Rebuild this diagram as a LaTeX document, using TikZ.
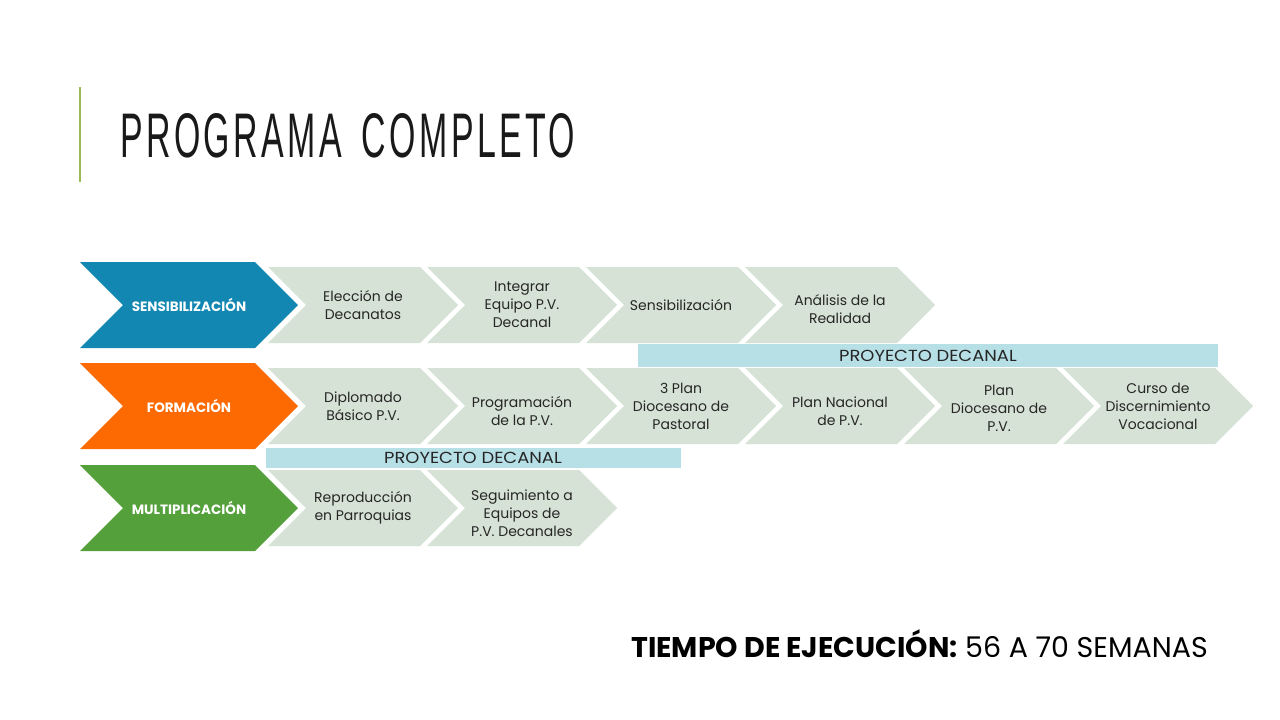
\documentclass[tikz,border=0pt]{standalone}
\usepackage{fontspec}
\setmainfont{Poppins}
\newfontfamily\titlefont{Liberation Sans}[LetterSpace=10]
\definecolor{cblue}{HTML}{1287B1}
\definecolor{corange}{HTML}{FD6A02}
\definecolor{cgreen}{HTML}{54A03A}
\definecolor{clight}{HTML}{D6E2D5}
\definecolor{cbar}{HTML}{B7E0E6}
\definecolor{cline}{HTML}{9BBB59}
\definecolor{ctext}{HTML}{262626}
\tikzset{
  lighttext/.style={align=center,text=ctext,font=\fontsize{14}{18}\selectfont,inner sep=0pt},
  headtext/.style={text=white,font=\bfseries\fontsize{13.5}{15}\selectfont,inner sep=0pt},
  bartext/.style={text=ctext,font=\fontsize{16}{18}\selectfont,inner sep=0pt},
}
\newcommand\lchev[3]{% x0, ytop, name
  \fill[clight] (#1,#2) -- ++(152,0) -- ++(38,38) -- ++(-38,38) -- ++(-152,0) -- ++(38,-38) -- cycle;
  \coordinate (#3) at (#1+95,#2+38);}
\newcommand\hchev[4]{% ytop, color, name, text
  \fill[#2] (80,#1) -- (255,#1) -- (298,#1+43) -- (255,#1+86) -- (80,#1+86) -- (123,#1+43) -- cycle;
  \node[headtext] (#3) at (189,#1+43) {#4};}
\newcommand\bartxt[1]{\scalebox{1.12}[1]{#1}}
\begin{document}
\begin{tikzpicture}[x=1pt,y=-1pt]
\useasboundingbox[fill=white] (0,0) rectangle (1280,720);
% title
\coordinate (lt) at (80,87);
\coordinate (lb) at (80,182);
\draw[cline,line width=2pt] (lt) -- (lb);
\node[anchor=base west,inner sep=0pt,text=black!90] (title) at (120,157)
  {\resizebox{455pt}{44pt}{\titlefont PROGRAMA\kern0.6em COMPLETO}};
% row 1
\hchev{262}{cblue}{h1}{SENSIBILIZACIÓN}
\lchev{268}{267}{a1}\node[lighttext] (t11) at (a1) {Elección de\\Decanatos};
\lchev{427}{267}{a2}\node[lighttext] (t12) at (a2) {Integrar\\Equipo P.V.\\Decanal};
\lchev{586}{267}{a3}\node[lighttext] (t13) at (a3) {Sensibilización};
\lchev{745}{267}{a4}\node[lighttext] (t14) at ([yshift=-4]a4) {Análisis de la\\Realidad};
% bar 1
\fill[cbar] (638,344) rectangle (1218,367);
\node[bartext] (bar1) at (928,356) {\bartxt{PROYECTO DECANAL}};
% row 2
\hchev{363}{corange}{h2}{FORMACIÓN}
\lchev{268}{368}{b1}\node[lighttext] (t21) at (b1) {Diplomado\\Básico P.V.};
\lchev{427}{368}{b2}\node[lighttext] (t22) at ([yshift=-5]b2) {Programación\\de la P.V.};
\lchev{586}{368}{b3}\node[lighttext] (t23) at (b3) {3 Plan\\Diocesano de\\Pastoral};
\lchev{745}{368}{b4}\node[lighttext] (t24) at ([yshift=-5]b4) {Plan Nacional\\de P.V.};
\lchev{904}{368}{b5}\node[lighttext] (t25) at ([yshift=-2]b5) {Plan\\Diocesano de\\P.V.};
\lchev{1063}{368}{b6}\node[lighttext] (t26) at (b6) {Curso de\\Discernimiento\\Vocacional};
% bar 2
\fill[cbar] (266,448) rectangle (681,468);
\node[bartext] (bar2) at (473,458) {\bartxt{PROYECTO DECANAL}};
% row 3
\hchev{465}{cgreen}{h3}{MULTIPLICACIÓN}
\lchev{268}{470}{c1}\node[lighttext] (t31) at (c1) {Reproducción\\en Parroquias};
\lchev{427}{470}{c2}\node[lighttext] (t32) at ([yshift=-5]c2) {Seguimiento a\\Equipos de\\P.V. Decanales};
% bottom
\node[anchor=base east,inner sep=0pt,text=black,font=\fontsize{28.5}{30}\selectfont] (time) at (1208,657)
  {\textbf{TIEMPO DE EJECUCIÓN:} 56 A 70 SEMANAS};
\end{tikzpicture}
\end{document}
